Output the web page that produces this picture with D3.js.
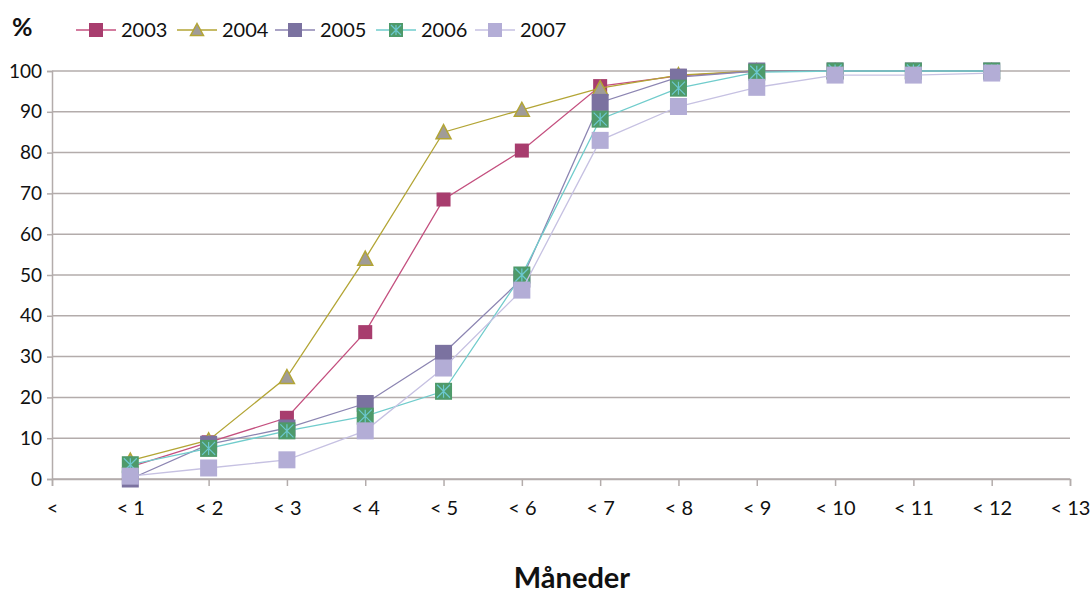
<!DOCTYPE html>
<html>
<head>
<meta charset="utf-8">
<script src="https://cdn.jsdelivr.net/npm/d3@7"></script>
<style>
  body { margin: 0; background: #fff; }
  text { font-family: "Lato", "Open Sans", sans-serif; fill: #111; }
</style>
</head>
<body>
<script>
var width = 1091;
var height = 598;

// categories on the x axis, "<" is the empty start
var months = ["<", "< 1", "< 2", "< 3", "< 4", "< 5", "< 6", "< 7", "< 8", "< 9", "< 10", "< 11", "< 12", "< 13"];
var pointMonths = ["< 1", "< 2", "< 3", "< 4", "< 5", "< 6", "< 7", "< 8", "< 9", "< 10", "< 11", "< 12"];
var yTicks = [0, 10, 20, 30, 40, 50, 60, 70, 80, 90, 100];

var years = ["2003", "2004", "2005", "2006", "2007"];
var v2003 = [3, 9, 15, 36, 68.5, 80.5, 96.3, 98.8, 100, 100, 100, 100];
var v2004 = [4.5, 9.5, 25, 54, 85, 90.5, 95.8, 99, 100, 100, 100, 100];
var v2005 = [0, 8.5, 12.5, 18.5, 30.8, 49, 92.3, 98.5, 100, 100, 100, 100];
var v2006 = [3.5, 7.5, 11.8, 15.4, 21.5, 50, 88.2, 95.8, 99.7, 100, 100, 100];
var v2007 = [0.7, 2.7, 4.7, 11.8, 27.2, 46.3, 83, 91.3, 96, 99, 99, 99.5];

var seriesStyle = {
    "2003": { line: "#c4507f", fill: "#a83d6e", stroke: "none", shape: "square", size: 14 },
    "2004": { line: "#b3a535", fill: "#a09c98", stroke: "#b3a535", shape: "triangle", size: 15 },
    "2005": { line: "#8c85b2", fill: "#7b72a0", stroke: "none", shape: "square", size: 17 },
    "2006": { line: "#70cccc", fill: "#4e9a6a", stroke: "none", shape: "star", size: 17 },
    "2007": { line: "#c6c1e2", fill: "#b3add6", stroke: "none", shape: "square", size: 17 }
};
var allValues = [v2003, v2004, v2005, v2006, v2007];

var margin = { top: 71, right: 21, bottom: 119, left: 52 };

var svg = d3.select("body").append("svg")
    .attr("width", width)
    .attr("height", height);

var x = d3.scalePoint()
    .domain(months)
    .range([margin.left, width - margin.right]);

var y = d3.scaleLinear()
    .domain([0, 100])
    .range([height - margin.bottom, margin.top]);

// grid lines
svg.append("g")
    .selectAll("line")
    .data(yTicks)
    .enter()
    .append("line")
    .attr("x1", margin.left)
    .attr("x2", width - margin.right)
    .attr("y1", function(d) { return y(d); })
    .attr("y2", function(d) { return y(d); })
    .attr("stroke", "#b3acab")
    .attr("stroke-width", 1.5);

// y axis
var yAxis = svg.append("g")
    .attr("transform", "translate(" + margin.left + ",0)")
    .call(d3.axisLeft(y).tickValues(yTicks).tickSize(5).tickPadding(5));
yAxis.select(".domain").attr("stroke", "#b3acab").attr("stroke-width", 1.5);
yAxis.selectAll(".tick line").attr("stroke", "#b3acab").attr("stroke-width", 1.5);
yAxis.selectAll("text").style("font-size", "19px").attr("fill", "#111");

// x axis
var xAxis = svg.append("g")
    .attr("transform", "translate(0," + y(0) + ")")
    .call(d3.axisBottom(x).tickSize(7).tickPadding(15));
xAxis.select(".domain").attr("stroke", "#b3acab").attr("stroke-width", 1.5);
xAxis.selectAll(".tick line").attr("stroke", "#b3acab").attr("stroke-width", 1.5);
xAxis.selectAll("text").style("font-size", "20px").attr("fill", "#111");

function drawMarker(g, style) {
    var s = style.size, h = s / 2;
    if (style.shape === "triangle") {
        g.append("path")
            .attr("d", "M0," + (-h) + "L" + h + "," + (h - 1) + "L" + (-h) + "," + (h - 1) + "Z")
            .attr("fill", style.fill)
            .attr("stroke", style.stroke)
            .attr("stroke-width", 1.5);
    } else {
        g.append("rect")
            .attr("x", -h).attr("y", -h)
            .attr("width", s).attr("height", s)
            .attr("fill", style.fill);
        if (style.shape === "star") {
            var a = h - 2;
            g.append("path")
                .attr("d", "M" + (-a) + "," + (-a) + "L" + a + "," + a +
                    "M" + (-a) + "," + a + "L" + a + "," + (-a) +
                    "M0," + (-a) + "L0," + a)
                .attr("stroke", "#6cc8d0")
                .attr("stroke-width", 1.2);
        }
    }
}

var line = d3.line()
    .x(function(d, i) { return x(pointMonths[i]); })
    .y(function(d) { return y(d); });

years.forEach(function(yr, k) {
    var st = seriesStyle[yr];
    var vals = allValues[k];
    var g = svg.append("g");
    g.append("path")
        .datum(vals)
        .attr("d", line)
        .attr("fill", "none")
        .attr("stroke", st.line)
        .attr("stroke-width", 1.3);
    vals.forEach(function(v, i) {
        var m = g.append("g")
            .attr("transform", "translate(" + x(pointMonths[i]) + "," + y(v) + ")");
        drawMarker(m, st);
    });
});

// legend
var legendX = [76, 177, 275, 376, 475];
years.forEach(function(yr, k) {
    var st = seriesStyle[yr];
    var lg = svg.append("g").attr("transform", "translate(" + legendX[k] + ",30)");
    lg.append("line")
        .attr("x1", 0).attr("x2", 40)
        .attr("stroke", st.line).attr("stroke-width", 1.5);
    var m = lg.append("g").attr("transform", "translate(20,0)");
    drawMarker(m, { fill: st.fill, stroke: st.stroke, shape: st.shape, size: st.shape === "triangle" ? 13 : 14 });
    lg.append("text")
        .attr("x", 45).attr("y", 7)
        .style("font-size", "20px")
        .text(yr);
});

svg.append("text")
    .attr("x", 12).attr("y", 36)
    .style("font-size", "25px")
    .style("font-weight", "bold")
    .text("%");

svg.append("text")
    .attr("x", 572).attr("y", 588)
    .attr("text-anchor", "middle")
    .style("font-size", "29px")
    .style("font-weight", "bold")
    .text("Måneder");
</script>
</body>
</html>
